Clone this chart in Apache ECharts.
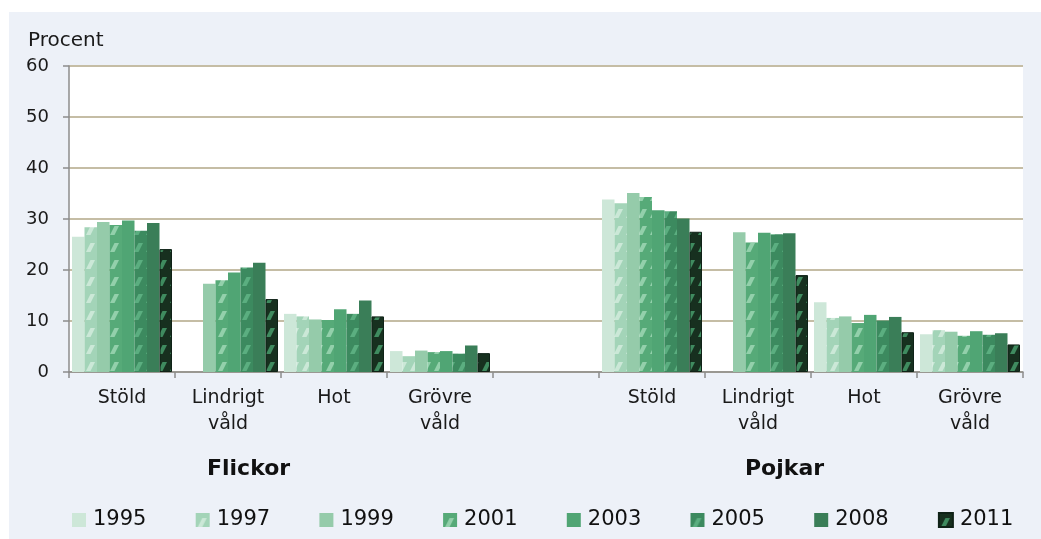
<!DOCTYPE html>
<html>
<head>
<meta charset="utf-8">
<script src="https://cdn.jsdelivr.net/npm/echarts@6/dist/echarts.min.js"></script>
<style>
html,body{margin:0;padding:0;background:#ffffff;}
#bg{position:absolute;left:9px;top:12px;width:1032px;height:527px;background:#EDF1F8;}
#chart{position:absolute;left:0;top:0;width:1041px;height:539px;}
</style>
</head>
<body>
<div id="bg"></div>
<div id="chart"></div>
<script>
// ---- data ----
const categories = ['Stöld', 'Lindrigt\nvåld', 'Hot', 'Grövre\nvåld', '', 'Stöld', 'Lindrigt\nvåld', 'Hot', 'Grövre\nvåld'];
const years = ['1995', '1997', '1999', '2001', '2003', '2005', '2008', '2011'];
const y1995 = [26.5, null, 11.4, 4.1, null, 33.8, null, 13.7, 7.4];
const y1997 = [28.4, null, 10.9, 3.1, null, 33.1, null, 10.6, 8.2];
const y1999 = [29.4, 17.3, 10.3, 4.2, null, 35.1, 27.4, 10.9, 7.9];
const y2001 = [28.8, 18.0, 10.2, 3.9, null, 34.3, 25.4, 9.6, 7.1];
const y2003 = [29.7, 19.5, 12.3, 4.1, null, 31.7, 27.3, 11.2, 8.0];
const y2005 = [27.7, 20.5, 11.4, 3.6, null, 31.5, 27.0, 10.1, 7.3];
const y2008 = [29.2, 21.4, 14.0, 5.2, null, 30.1, 27.2, 10.8, 7.6];
const y2011 = [24.1, 14.3, 10.9, 3.7, null, 27.5, 19.0, 7.8, 5.4];
const yTicks = [0, 10, 20, 30, 40, 50, 60];
const groupLabels = ['Flickor', 'Pojkar'];
const yName = 'Procent';

const seriesValues = [y1995, y1997, y1999, y2001, y2003, y2005, y2008, y2011];

// ---- styles ----
const baseColors = ['#CDE7D8', '#A3D4B8', '#95CBAA', '#56AA78', '#50A574', '#3C8A5F', '#3A7E58', '#17301F'];
const stripeColors = [null, '#CBE8D7', null, '#93D0AB', null, '#5BAE80', null, '#3F8B5F'];

function makePattern(base, stripe) {
  const c = document.createElement('canvas');
  c.width = 12; c.height = 17;
  const ctx = c.getContext('2d');
  ctx.fillStyle = base;
  ctx.fillRect(0, 0, 12, 17);
  ctx.fillStyle = stripe;
  ctx.beginPath();
  ctx.moveTo(2, 14);
  ctx.lineTo(6.5, 14);
  ctx.lineTo(11, 5);
  ctx.lineTo(6.5, 5);
  ctx.closePath();
  ctx.fill();
  return { image: c, repeat: 'repeat', imageWidth: 12, imageHeight: 17 };
}

const FONT = '"DejaVu Sans", sans-serif';

const series = years.map((y, i) => ({
  name: y,
  type: 'bar',
  data: seriesValues[i],
  barGap: 0,
  barCategoryGap: '5.66%',
  itemStyle: {
    color: stripeColors[i] ? makePattern(baseColors[i], stripeColors[i]) : baseColors[i],
    borderColor: i === 7 ? '#0f2217' : undefined,
    borderWidth: i === 7 ? 1 : 0
  },
  emphasis: { disabled: true }
}));

const chart = echarts.init(document.getElementById('chart'), null, { renderer: 'canvas' });
chart.setOption({
  backgroundColor: 'transparent',
  animation: false,
  textStyle: { fontFamily: FONT },
  title: [
    { text: yName, left: 28, top: 31, padding: 0,
      textStyle: { fontFamily: FONT, fontSize: 20, fontWeight: 'normal', color: '#1a1a1a' } },
    { text: groupLabels[0], left: 207, top: 458, padding: 0,
      textStyle: { fontFamily: FONT, fontSize: 22, fontWeight: 'bold', color: '#111' } },
    { text: groupLabels[1], left: 745, top: 458, padding: 0,
      textStyle: { fontFamily: FONT, fontSize: 22, fontWeight: 'bold', color: '#111' } }
  ],
  legend: {
    data: years,
    left: 72,
    top: 509,
    padding: 0,
    icon: 'rect',
    itemWidth: 14,
    itemHeight: 14,
    itemGap: 42.7,
    selectedMode: false,
    textStyle: { fontFamily: FONT, fontSize: 21, color: '#111', width: 60, lineHeight: 22, padding: [0, 0, 0, 2] }
  },
  grid: {
    left: 69, right: 18, top: 66, bottom: 167,
    show: true, backgroundColor: '#ffffff', borderWidth: 0
  },
  xAxis: {
    type: 'category',
    data: categories,
    axisLine: { show: true, lineStyle: { color: '#8C8C8C', width: 1.5 } },
    axisTick: { show: true, length: 6, alignWithLabel: false, lineStyle: { color: '#8C8C8C', width: 1.5 } },
    axisLabel: { interval: 0, margin: 13, fontFamily: FONT, fontSize: 19, color: '#1a1a1a', lineHeight: 26, align: 'center' },
    splitLine: { show: false }
  },
  yAxis: {
    type: 'value',
    min: yTicks[0],
    max: yTicks[yTicks.length - 1],
    interval: 10,
    axisLine: { show: true, lineStyle: { color: '#8C8C8C', width: 1.5 } },
    axisTick: { show: true, length: 6, lineStyle: { color: '#8C8C8C', width: 1.5 } },
    axisLabel: { margin: 20, fontFamily: FONT, fontSize: 18, color: '#1a1a1a' },
    splitLine: { show: true, lineStyle: { color: '#C5BDA5', width: 2 } }
  },
  series: series
});
</script>
</body>
</html>
